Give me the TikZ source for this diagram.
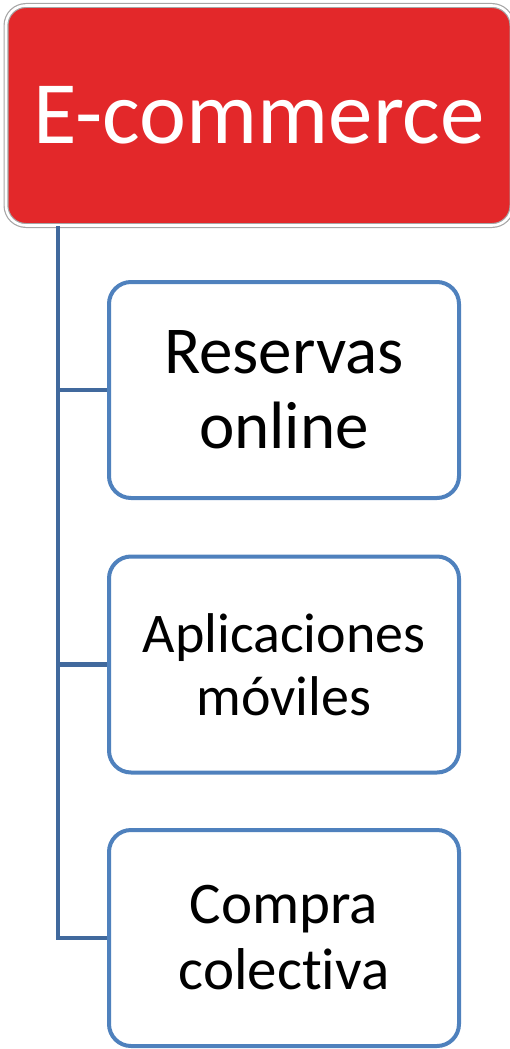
\documentclass[tikz,border=0pt]{standalone}
\usepackage{fontspec}
\setmainfont{Carlito}[Ligatures={NoCommon,NoContextual}]
\definecolor{topred}{HTML}{E3282A}
\definecolor{topgray}{HTML}{A6A6A6}
\definecolor{boxblue}{HTML}{4F81BD}
\definecolor{connblue}{HTML}{41699D}
\tikzset{
  topbox/.style={draw=topgray, line width=1.2pt, double=white, double distance=2.6pt,
    fill=topred, rounded corners=20pt, minimum width=506pt, minimum height=220pt,
    inner sep=0pt, text=white, font=\fontsize{89}{107}\selectfont},
  childbox/.style={draw=boxblue, line width=4pt, fill=white, rounded corners=22pt,
    minimum width=350pt, minimum height=216pt, inner sep=0pt, align=center, text=black},
  conn/.style={draw=connblue, line width=4.5pt}
}
\begin{document}
\begin{tikzpicture}[x=1pt,y=-1pt]
\useasboundingbox (0,0) rectangle (510,1049);
\node[topbox] (top) at (259,115.5) {E-commerce};
\node[childbox, font=\fontsize{67}{75}\selectfont] (b1) at (284,390) {Reservas\\online};
\node[childbox, font=\fontsize{56}{63}\selectfont] (b2) at (284,664.5) {Aplicaciones\\móviles};
\node[childbox, font=\fontsize{59}{66}\selectfont] (b3) at (284,938) {Compra\\colectiva};
\coordinate (t) at (58,226);
\draw[conn] (top.south -| t) |- (b3.west);
\draw[conn] (b1.west -| t) -- (b1.west);
\draw[conn] (b2.west -| t) -- (b2.west);
\end{tikzpicture}
\end{document}
